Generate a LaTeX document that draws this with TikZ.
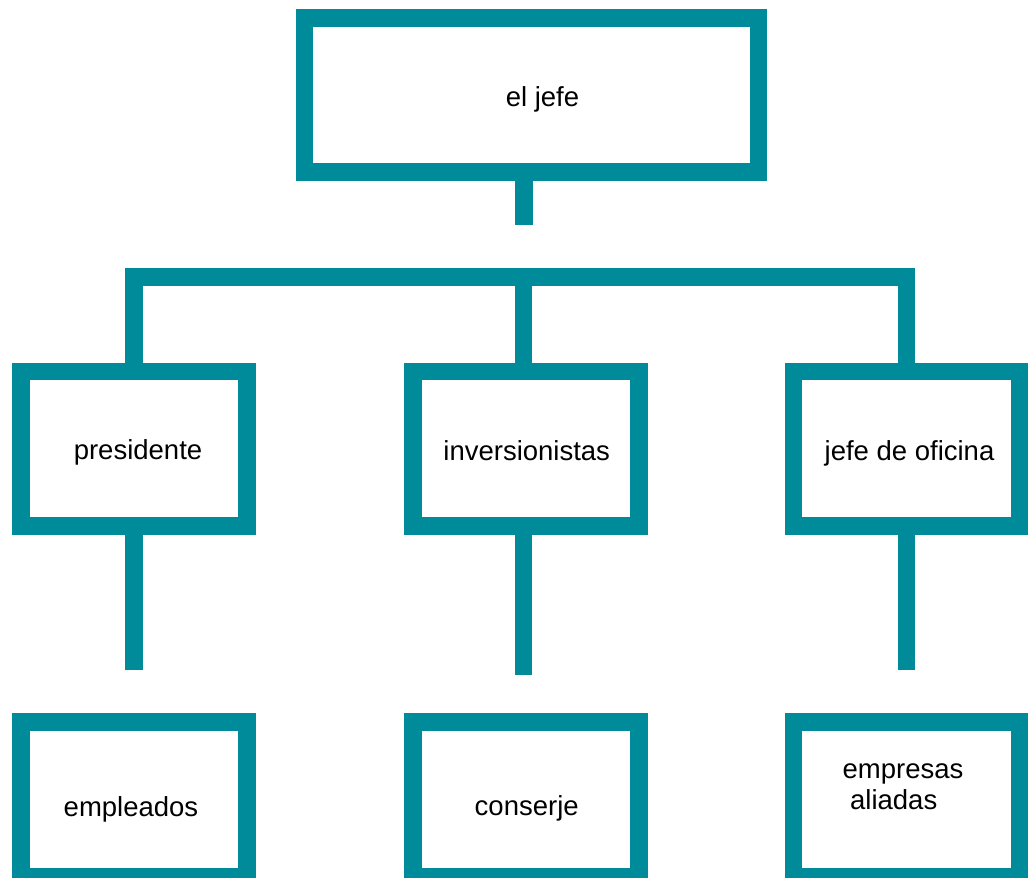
\documentclass[tikz,border=0pt]{standalone}
\usepackage{fontspec}
\setmainfont{Liberation Sans}
\definecolor{teal1}{HTML}{008B9A}
\begin{document}
\begin{tikzpicture}[x=1pt,y=-1pt,
  box/.style={draw=teal1, line width=17.6pt, miter limit=10, inner sep=0pt, minimum width=226pt, minimum height=154.7pt},
  conn/.style={draw=teal1, line width=17.6pt, line cap=butt, line join=miter},
  lbl/.style={anchor=base, inner sep=0pt, text=black, font=\fontsize{27.5}{31}\selectfont}]
\useasboundingbox (0,0) rectangle (1032,877);
\clip (0,0) rectangle (1032,877);
% boxes
\node[box, minimum width=454pt, minimum height=154pt] (boss) at (531.3,95) {};
\node[box] (pres) at (133.9,448.7) {};
\node[box] (inv)  at (525.8,448.7) {};
\node[box] (jof)  at (906.5,448.7) {};
\node[box] (emp)  at (133.9,799.5) {};
\node[box] (con)  at (525.8,799.5) {};
\node[box] (ali)  at (906.5,799.5) {};
% connector ends
\coordinate (bar) at (0,277);
\coordinate (bossend) at (524,225.3);
\coordinate (presend) at (133.9,669.7);
\coordinate (invend) at (523.5,675.3);
\coordinate (jofend) at (906.5,669.7);
% connectors
\draw[conn] (boss.south -| bossend) -- (bossend);
\draw[conn] (pres.north) -- (pres.north |- bar) -- (jof.north |- bar) -- (jof.north);
\draw[conn] (inv.north -| invend) -- (invend |- bar);
\draw[conn] (pres.south) -- (presend);
\draw[conn] (inv.south -| invend) -- (invend);
\draw[conn] (jof.south) -- (jofend);
% labels
\node[lbl] (tboss) at (542.5,107) {el jefe};
\node[lbl] (tpres) at (138,459.5) {presidente};
\node[lbl] (tinv)  at (526.7,460.7) {inversionistas};
\node[lbl] (tjof)  at (909.5,460.7) {jefe de oficina};
\node[lbl] (temp)  at (131,816.7) {empleados};
\node[lbl] (tcon)  at (526.7,815) {conserje};
\node[lbl] (tali1) at (903,778.3) {empresas};
\node[lbl] (tali2) at (893.7,809.3) {aliadas};
\end{tikzpicture}
\end{document}
